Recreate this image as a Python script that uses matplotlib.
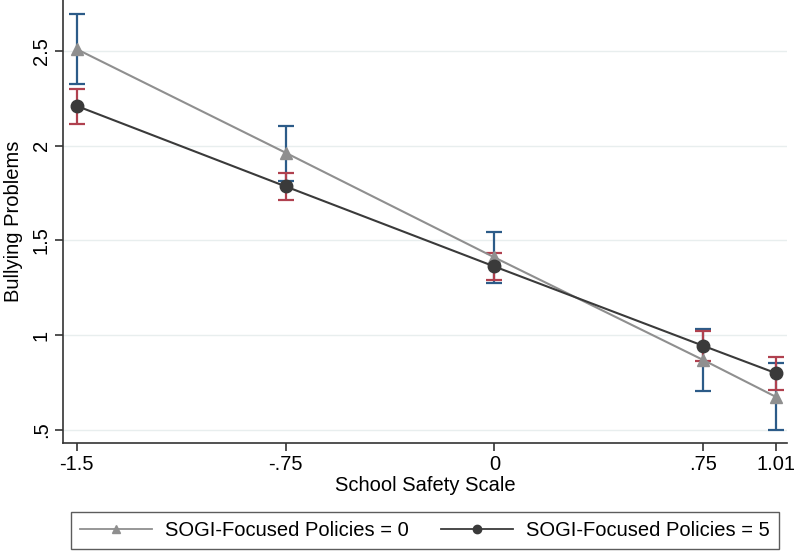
import matplotlib
matplotlib.use("Agg")
import matplotlib.pyplot as plt
from matplotlib.lines import Line2D

plt.rcParams['font.family'] = ['Liberation Sans', 'DejaVu Sans']

x_vals = [-1.5, -0.75, 0.0, 0.75, 1.01]
x_ticklabels = ["-1.5", "-.75", "0", ".75", "1.01"]
y_ticks = [0.5, 1.0, 1.5, 2.0, 2.5]
y_ticklabels = [".5", "1", "1.5", "2", "2.5"]

pol0_mean = [2.51, 1.963, 1.41, 0.868, 0.674]
pol0_lo = [2.324, 1.815, 1.276, 0.703, 0.497]
pol0_hi = [2.696, 2.104, 1.544, 1.033, 0.851]

pol5_mean = [2.21, 1.785, 1.362, 0.943, 0.799]
pol5_lo = [2.113, 1.712, 1.29, 0.863, 0.711]
pol5_hi = [2.298, 1.857, 1.432, 1.023, 0.882]

labels = ["SOGI-Focused Policies = 0", "SOGI-Focused Policies = 5"]

c0_line = "#8f8f8f"
c0_ci = "#2c5b88"
c5_line = "#3a3a3a"
c5_ci = "#b0414f"

FS = 14.5

fig = plt.figure(figsize=(8, 5.55), dpi=100)
ax = fig.add_axes([0.079, 0.2024, 0.905, 0.7976])

for xs, m, lo, hi, ci_c in [(x_vals, pol0_mean, pol0_lo, pol0_hi, c0_ci),
                             (x_vals, pol5_mean, pol5_lo, pol5_hi, c5_ci)]:
    yerr = [[mm - l for mm, l in zip(m, lo)], [h - mm for mm, h in zip(m, hi)]]
    ax.errorbar(xs, m, yerr=yerr, fmt='none', ecolor=ci_c, elinewidth=1.6,
                capsize=6, capthick=1.6, zorder=2)

ax.plot(x_vals, pol0_mean, color=c0_line, lw=1.5, marker='^', ms=9,
        markerfacecolor=c0_line, markeredgecolor=c0_line, zorder=3)
ax.plot(x_vals, pol5_mean, color=c5_line, lw=1.5, marker='o', ms=9,
        markerfacecolor=c5_line, markeredgecolor=c5_line, zorder=4)

ax.set_xlim(-1.549, 1.052)
ax.set_ylim(0.431, 2.77)
ax.set_xticks(x_vals)
ax.set_xticklabels(x_ticklabels, fontsize=FS)
ax.set_yticks(y_ticks)
ax.set_yticklabels(y_ticklabels, fontsize=FS, rotation=90, va='center')
ax.tick_params(direction='out', length=6, width=1.2, colors='#333333', labelcolor='black', pad=3)
for s in ['top', 'right']:
    ax.spines[s].set_visible(False)
for s in ['left', 'bottom']:
    ax.spines[s].set_linewidth(1.2)
    ax.spines[s].set_color('#333333')
ax.grid(axis='y', color='#e8eeee', lw=1.0)
ax.set_axisbelow(True)
ax.set_xlabel("School Safety Scale", fontsize=FS, labelpad=1)
ax.set_ylabel("Bullying Problems", fontsize=FS, labelpad=6)

handles = [Line2D([0], [0], color=c0_line, lw=1.3, marker='^', ms=6),
           Line2D([0], [0], color=c5_line, lw=1.3, marker='o', ms=6)]
leg = fig.legend(handles, labels, loc='lower left', bbox_to_anchor=(71 / 800, 6 / 555),
                 ncol=2, fontsize=FS, frameon=True, fancybox=False,
                 edgecolor='#333333', handlelength=3.57, handletextpad=0.65,
                 columnspacing=1.6, borderpad=0.45, borderaxespad=0)
leg.get_frame().set_linewidth(1.0)

fig.savefig("out.png", dpi=100, facecolor='white')
